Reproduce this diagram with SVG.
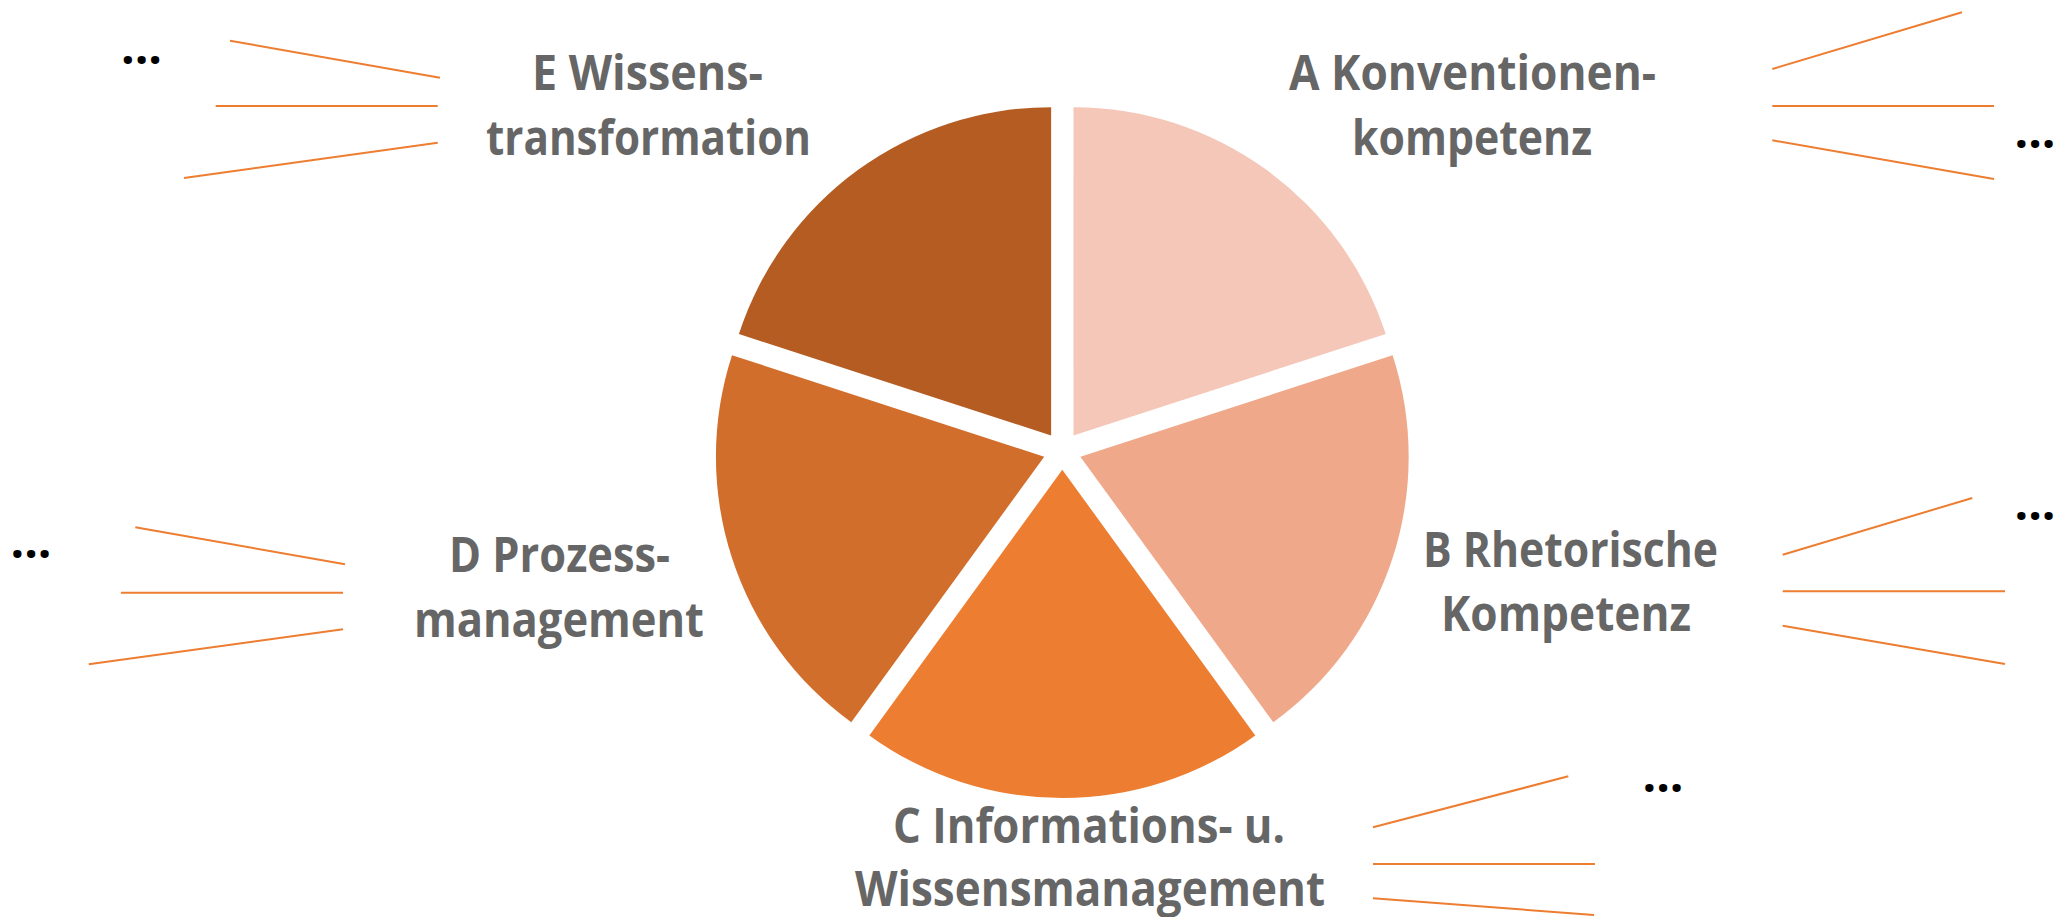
<svg xmlns="http://www.w3.org/2000/svg" width="2059" height="917" viewBox="0 0 2059 917">
<style>
.lbl{font-family:"Open Sans","Liberation Sans",sans-serif;font-weight:700;font-size:48px;fill:#666666}
.dots{font-family:"Open Sans","Liberation Sans",sans-serif;font-weight:700;font-size:48px;fill:#000000;text-anchor:middle}
.ln{stroke:#ED7D31;stroke-width:2;fill:none}
</style>
<rect width="2059" height="917" fill="#ffffff"/>
<g id="pie">
<path id="sliceA" d="M1073.47,435.43 L1073.47,107.13 A328.3,328.3 0 0 1 1385.70,333.98 Z" fill="#F5C7B8"/>
<path id="sliceB" d="M1080.37,456.67 L1392.60,355.22 A328.3,328.3 0 0 1 1273.34,722.27 Z" fill="#F0A88A"/>
<path id="sliceC" d="M1062.3,469.8 L1255.27,735.40 A328.3,328.3 0 0 1 869.33,735.40 Z" fill="#ED7D31"/>
<path id="sliceD" d="M1044.23,456.67 L851.26,722.27 A328.3,328.3 0 0 1 732.00,355.22 Z" fill="#D26E2C"/>
<path id="sliceE" d="M1051.13,435.43 L738.90,333.98 A328.3,328.3 0 0 1 1051.13,107.13 Z" fill="#B45C22"/>
</g>
<g id="labelA">
<text class="lbl" x="1289" y="90" textLength="367" lengthAdjust="spacingAndGlyphs">A Konventionen-</text>
<text class="lbl" x="1352" y="155" textLength="240" lengthAdjust="spacingAndGlyphs">kompetenz</text>
</g>
<g id="labelB">
<text class="lbl" x="1423" y="567" textLength="295" lengthAdjust="spacingAndGlyphs">B Rhetorische</text>
<text class="lbl" x="1441" y="631" textLength="250" lengthAdjust="spacingAndGlyphs">Kompetenz</text>
</g>
<g id="labelC">
<text class="lbl" x="893" y="843" textLength="392" lengthAdjust="spacingAndGlyphs">C Informations- u.</text>
<text class="lbl" x="855" y="906" textLength="470" lengthAdjust="spacingAndGlyphs">Wissensmanagement</text>
</g>
<g id="labelD">
<text class="lbl" x="449" y="572" textLength="221" lengthAdjust="spacingAndGlyphs">D Prozess-</text>
<text class="lbl" x="414" y="637" textLength="290" lengthAdjust="spacingAndGlyphs">management</text>
</g>
<g id="labelE">
<text class="lbl" x="532" y="90" textLength="231" lengthAdjust="spacingAndGlyphs">E Wissens-</text>
<text class="lbl" x="486" y="155" textLength="325" lengthAdjust="spacingAndGlyphs">transformation</text>
</g>
<g id="dots">
<text class="dots" x="141.5" y="64">...</text>
<text class="dots" x="2035" y="148">...</text>
<text class="dots" x="2035" y="520">...</text>
<text class="dots" x="1663" y="792">...</text>
<text class="dots" x="31" y="558">...</text>
</g>
<g id="connectors">
<line class="ln" x1="230" y1="40.7" x2="440" y2="77.7"/>
<line class="ln" x1="215.7" y1="106" x2="437.7" y2="106"/>
<line class="ln" x1="184" y1="178" x2="437.7" y2="142.7"/>
<line class="ln" x1="1772.3" y1="69" x2="1962" y2="12.3"/>
<line class="ln" x1="1772.3" y1="106" x2="1994" y2="106"/>
<line class="ln" x1="1772.3" y1="140.3" x2="1994" y2="179"/>
<line class="ln" x1="1782.7" y1="554.7" x2="1972.3" y2="498"/>
<line class="ln" x1="1782.7" y1="591.3" x2="2005" y2="591.3"/>
<line class="ln" x1="1782.7" y1="625.7" x2="2005" y2="664"/>
<line class="ln" x1="1373" y1="827.3" x2="1568.3" y2="776.3"/>
<line class="ln" x1="1373" y1="864" x2="1595" y2="864"/>
<line class="ln" x1="1373" y1="898.3" x2="1594" y2="915"/>
<line class="ln" x1="135.3" y1="527.3" x2="345" y2="564.3"/>
<line class="ln" x1="120.9" y1="592.7" x2="343" y2="592.7"/>
<line class="ln" x1="88.7" y1="664.3" x2="343" y2="629.3"/>
</g>
</svg>
